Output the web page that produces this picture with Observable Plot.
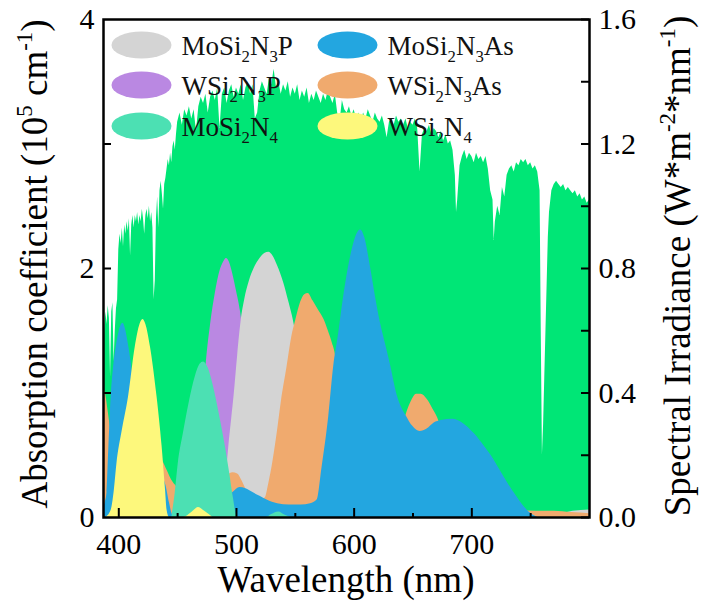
<!DOCTYPE html>
<html><head><meta charset="utf-8">
<script src="https://cdn.jsdelivr.net/npm/d3@7"></script>
<script src="https://cdn.jsdelivr.net/npm/@observablehq/plot@0.6"></script>
<style>html,body{margin:0;padding:0;background:#fff}svg{display:block}</style>
</head><body><div id="chart"></div>
<script>
// ---------- DATA ----------
// AM1.5 solar spectral irradiance, [wavelength nm, W m^-2 nm^-1] (right axis)
const solar = [
[387,0.42],[388,0.60],[389,0.66],[390,0.62],[391,0.68],[392,0.64],[393,0.45],[394,0.66],[395,0.69],[396,0.50],
[397,0.60],[398,0.67],[399,0.70],[400,0.86],[401,0.91],[402,0.88],[403,0.93],[404,0.87],[405,0.94],[406,0.91],
[407,0.95],[408,0.92],[409,0.96],[410,0.84],[411,0.94],[412,0.97],[413,0.93],[414,0.97],[415,0.95],[416,0.98],
[417,0.94],[418,0.97],[419,0.95],[420,0.99],[421,0.96],[422,0.91],[423,0.97],[424,0.99],[425,0.96],[426,1.00],
[427,0.95],[428,0.98],[429,0.93],[430,0.70],[431,0.76],[432,0.96],[433,1.03],[434,0.93],[435,1.05],[436,1.08],
[437,1.04],[438,0.99],[439,1.07],[440,1.09],[441,1.12],[442,1.15],[443,1.13],[444,1.17],[445,1.14],[446,1.19],
[447,1.21],[448,1.18],[449,1.23],[450,1.27],[452,1.30],[454,1.26],[456,1.31],[458,1.29],[460,1.32],[462,1.28],
[464,1.31],[466,1.24],[468,1.32],[470,1.35],[472,1.33],[474,1.36],[476,1.30],[478,1.35],[480,1.37],[482,1.34],
[484,1.38],[486,1.25],[488,1.36],[490,1.38],[492,1.33],[494,1.37],[496,1.39],[498,1.35],[500,1.38],[502,1.36],
[504,1.39],[506,1.34],[508,1.38],[510,1.40],[512,1.36],[514,1.39],[516,1.28],[518,1.30],[520,1.37],[522,1.40],
[524,1.38],[526,1.36],[528,1.41],[530,1.39],[532,1.44],[534,1.38],[536,1.40],[538,1.36],[540,1.39],[542,1.37],
[544,1.40],[546,1.35],[548,1.38],[550,1.36],[552,1.39],[554,1.34],[556,1.37],[558,1.35],[560,1.38],[562,1.33],
[564,1.36],[566,1.34],[568,1.37],[570,1.35],[572,1.33],[574,1.36],[576,1.34],[578,1.37],[580,1.35],[582,1.33],
[584,1.36],[586,1.30],[588,1.27],[590,1.34],[592,1.31],[594,1.30],[596,1.32],[598,1.29],[600,1.31],[602,1.28],
[604,1.30],[606,1.27],[608,1.30],[610,1.28],[612,1.31],[614,1.29],[616,1.27],[618,1.30],[620,1.28],[622,1.27],
[624,1.29],[626,1.26],[628,1.22],[630,1.27],[632,1.28],[634,1.26],[636,1.29],[638,1.27],[640,1.28],[642,1.26],
[644,1.28],[646,1.25],[648,1.27],[650,1.26],[652,1.28],[654,1.25],[656,1.11],[658,1.23],[660,1.25],[662,1.24],
[664,1.26],[666,1.23],[668,1.25],[670,1.24],[672,1.22],[674,1.24],[676,1.21],[678,1.23],[680,1.20],[682,1.21],
[684,1.18],[686,1.10],[687,0.98],[688,1.02],[690,1.13],[692,1.16],[694,1.18],[696,1.15],[698,1.17],[700,1.16],
[702,1.14],[704,1.17],[706,1.15],[708,1.16],[710,1.14],[712,1.16],[714,1.12],[716,1.05],[718,1.02],[719,0.89],
[720,0.95],[722,1.00],[724,0.97],[726,1.06],[728,1.03],[730,1.10],[732,1.12],[734,1.13],[736,1.11],[738,1.14],
[740,1.13],[742,1.15],[744,1.14],[746,1.15],[748,1.13],[750,1.14],[752,1.12],[754,1.13],[756,1.11],[758,1.05],
[759,0.60],[760,0.20],[761,0.30],[762,0.45],[763,0.60],[764,0.75],[765,0.90],[766,0.98],[768,1.05],[770,1.07],
[772,1.08],[774,1.07],[776,1.06],[778,1.07],[780,1.05],[782,1.06],[784,1.05],[786,1.04],[788,1.05],[790,1.03],
[792,1.04],[794,1.02],[796,1.03],[798,1.01],[800,1.02]
];
// Absorption coefficients, [wavelength nm, 10^5 cm^-1] (left axis)
const WSi2N3P = [[462,0],[466,0.2],[470,0.6],[474,1.2],[478,1.55],[482,1.8],[486,1.98],[489,2.05],[491.5,2.08],
[494,2.05],[497,1.95],[500,1.82],[503.5,1.65],[507,1.35],[510,1.0],[513,0.6],[516,0.3],[520,0.05],[524,0]];
const MoSi2N3P = [[486,0],[489,0.12],[491,0.3],[493.5,0.57],[496,0.8],[498,0.98],[501,1.3],[504,1.58],[507,1.75],
[511,1.9],[515,2.0],[520,2.08],[524,2.12],[527.6,2.13],[531,2.1],[535,2.02],[540.3,1.88],[544,1.75],[547.5,1.62],
[551,1.45],[555,1.2],[560,0.8],[565,0.4],[570,0.1],[575,0],[770,0],[778,0.03],[786,0.05],[800,0.06]];
const WSi2N3As = [[387,1.05],[389,0.98],[391,0.85],[394,0.65],[398,0.5],[403,0.42],[410,0.42],[420,0.47],[428.5,0.52],
[433,0.51],[437,0.46],[441,0.38],[445,0.3],[449,0.25],[455,0.2],[465,0.2],[475,0.24],[485,0.3],[492,0.34],[497,0.36],
[501,0.35],[505,0.29],[509,0.21],[514,0.15],[520,0.13],[524.6,0.16],[527.4,0.27],[531,0.45],[534.5,0.67],[538,0.92],
[543,1.21],[547,1.45],[550.3,1.58],[554.6,1.73],[558,1.79],[561,1.8],[565,1.74],[570,1.66],[574.4,1.59],[578,1.5],
[581.5,1.4],[584.3,1.29],[587,1.0],[590,0.6],[594,0.3],[600,0.2],[610,0.2],[620,0.25],[630,0.38],[638,0.58],
[644,0.82],[649,0.94],[653,0.99],[657,0.99],[662,0.95],[667,0.87],[671,0.8],[674,0.72],[680,0.5],[690,0.3],
[700,0.2],[720,0.1],[740,0.06],[755,0.05],[770,0.05],[785,0.04],[800,0.03]];
const MoSi2N3As = [[387,0.08],[388.5,0.12],[390,0.2],[391.5,0.55],[393.5,0.97],[395.5,1.2],[397.8,1.37],[400.5,1.5],
[403.5,1.56],[406,1.5],[408,1.4],[410,1.28],[413,1.05],[416,0.8],[420,0.58],[425,0.46],[430,0.41],[434,0.37],
[437,0.33],[440,0.26],[443,0.12],[446,0.02],[460,0.05],[480,0.1],[490,0.15],[497,0.2],[503,0.24],[508,0.23],
[514,0.2],[520,0.17],[526,0.14],[535,0.11],[545,0.1],[555,0.1],[563,0.11],[568.5,0.14],[572.7,0.4],[578.4,0.81],
[582.6,1.21],[586.9,1.48],[590.6,1.74],[595,2.0],[598.3,2.15],[602,2.27],[605.5,2.31],[609,2.25],[613.9,2.01],
[618,1.78],[622.4,1.56],[627,1.38],[631,1.22],[636.6,0.98],[640,0.89],[644,0.82],[650,0.73],[656,0.69],[662,0.71],
[668,0.76],[674,0.78],[684,0.79],[692,0.76],[702.4,0.67],[710,0.58],[717,0.49],[724,0.38],[731,0.27],[738,0.17],
[745,0.08],[752,0.02],[756,0]];
const MoSi2N4 = [[445,0],[448,0.2],[450.5,0.43],[455,0.68],[460,0.93],[465,1.13],[469,1.23],[472,1.25],[476,1.2],
[480,1.07],[485,0.85],[490,0.6],[494,0.37],[497.5,0.15],[500,0.02],[502,0],[525,0],[530,0.025],[536,0.045],[541,0.02],[546,0]];
const WSi2N4 = [[389,0],[393.6,0.06],[396,0.2],[398.4,0.43],[403,0.7],[408.3,0.97],[414,1.37],[418,1.55],[420.5,1.59],
[423,1.55],[426.9,1.37],[432.5,0.97],[436.8,0.57],[439.7,0.22],[441,0.06],[443,0],[455,0],[462,0.04],[467.7,0.08],
[473,0.05],[480,0]];

const seriesNames  = ["MoSi2N3P", "MoSi2N3As", "WSi2N3P", "WSi2N3As", "MoSi2N4", "WSi2N4"];
const seriesColors = {MoSi2N3P:"#d4d4d4", MoSi2N3As:"#23a6e0", WSi2N3P:"#ba88e2", WSi2N3As:"#f0aa6e", MoSi2N4:"#4ce0b3", WSi2N4:"#fdf87c"};
const seriesData   = {MoSi2N3P, MoSi2N3As, WSi2N3P, WSi2N3As, MoSi2N4, WSi2N4};
const drawOrder = ["WSi2N3P", "MoSi2N3P", "WSi2N3As", "MoSi2N3As", "MoSi2N4", "WSi2N4"];
// legend label pieces: [text, "sub"|""]
const legendLabels = {
  MoSi2N3P: [["MoSi",""],["2","sub"],["N",""],["3","sub"],["P",""]],
  MoSi2N3As:[["MoSi",""],["2","sub"],["N",""],["3","sub"],["As",""]],
  WSi2N3P:  [["WSi",""],["2","sub"],["N",""],["3","sub"],["P",""]],
  WSi2N3As: [["WSi",""],["2","sub"],["N",""],["3","sub"],["As",""]],
  MoSi2N4:  [["MoSi",""],["2","sub"],["N",""],["4","sub"]],
  WSi2N4:   [["WSi",""],["2","sub"],["N",""],["4","sub"]]
};
const xTicks = [400, 500, 600, 700];
const xMinorTicks = [450, 550, 650, 750];
const yLeftLabels = [0, 2, 4];
const yLeftTicks = [1, 2, 3];
const yRightLabels = [0.0, 0.4, 0.8, 1.2, 1.6];
const yRightMinor = [0.2, 0.6, 1.0, 1.4];
const xDomain = [387, 800];
const yDomain = [0, 4];
const irrMax = 1.6;

// ---------- LAYOUT ----------
const W = 702, H = 612;
const mT = 19, mR = 113, mB = 95, mL = 103;
const pw = W - mL - mR, ph = H - mT - mB;
const k = yDomain[1] / irrMax;
const FONT = '"Liberation Serif", "Times New Roman", serif';

const areaMarks = drawOrder.map(name =>
  Plot.areaY(seriesData[name], {x: d => d[0], y1: 0, y2: d => d[1], fill: seriesColors[name], curve: "monotone-x"}));

const chart = Plot.plot({
  width: W, height: H,
  marginTop: mT, marginRight: mR, marginBottom: mB, marginLeft: mL,
  x: {domain: xDomain},
  y: {domain: yDomain},
  style: {fontFamily: FONT, background: "#fff", color: "#000"},
  marks: [
    Plot.areaY(solar, {x: d => d[0], y1: 0, y2: d => d[1] * k, fill: "#00e676", curve: "linear"}),
    ...areaMarks,
    Plot.ruleX(xTicks, {x: d => d, insetTop: ph - 9, stroke: "#000", strokeWidth: 2}),
    Plot.ruleX(xMinorTicks, {x: d => d, insetTop: ph - 4, stroke: "#000", strokeWidth: 2}),
    Plot.ruleY(yLeftTicks, {y: d => d, insetRight: pw - 8, stroke: "#000", strokeWidth: 2}),
    Plot.ruleY(yRightLabels.concat(yRightMinor), {y: d => d * k, insetLeft: pw - 8, stroke: "#000", strokeWidth: 2}),
    Plot.axisX(xTicks, {tickSize: 0, tickPadding: 15, fontSize: 30, label: null}),
    Plot.axisY(yLeftLabels, {anchor: "left", tickSize: 0, tickPadding: 9, fontSize: 30, label: null,
      tickFormat: d => String(d)}),
    Plot.axisY(yRightLabels.map(v => v * k), {anchor: "right", tickSize: 0, tickPadding: 9, fontSize: 30, label: null,
      tickFormat: d => (d / k).toFixed(1)}),
    Plot.frame({stroke: "#000", strokeWidth: 2.5})
  ]
});
document.getElementById("chart").appendChild(chart);

// ---------- TEXT (titles & legend with sub/superscripts) ----------
const svg = d3.select(chart);
function rich(textSel, parts, size) {
  let shift = 0;
  for (const [t, s] of parts) {
    const target = s === "sub" ? size * 0.27 : s === "sup" ? -size * 0.4 : 0;
    textSel.append("tspan").attr("dy", (target - shift) + "px")
      .style("font-size", (s ? size * 0.62 : size) + "px").text(t);
    shift = target;
  }
}
function txt(anchor) {
  return svg.append("text").style("font-family", FONT).attr("fill", "#000").attr("text-anchor", anchor);
}
const TS = 37;
rich(txt("middle").attr("transform", `translate(${mL + pw / 2},592)`), [["Wavelength (nm)", ""]], TS);
rich(txt("middle").attr("transform", `translate(47,${mT + ph / 2 - 4}) rotate(-90)`),
  [["Absorption coefficient (10",""],["5","sup"],[" cm",""],["-1","sup"],[")",""]], TS);
rich(txt("middle").attr("transform", `translate(690,${mT + ph / 2 - 2}) rotate(-90)`),
  [["Spectral Irradiance (W*m",""],["-2","sup"],["*nm",""],["-1","sup"],[")",""]], TS);

// legend: 2 columns x 3 rows
const legendOrder = [["MoSi2N3P","MoSi2N3As"],["WSi2N3P","WSi2N3As"],["MoSi2N4","WSi2N4"]];
const colX = [141.5, 347.5], rowY = [45, 85, 126];
legendOrder.forEach((row, r) => row.forEach((name, c) => {
  svg.append("ellipse").attr("cx", colX[c]).attr("cy", rowY[r]).attr("rx", 30).attr("ry", 13.5)
    .attr("fill", seriesColors[name]);
  rich(txt("start").attr("fill", "#111").attr("x", colX[c] + 40).attr("y", rowY[r] + 10), legendLabels[name], 27);
}));
</script></body></html>
